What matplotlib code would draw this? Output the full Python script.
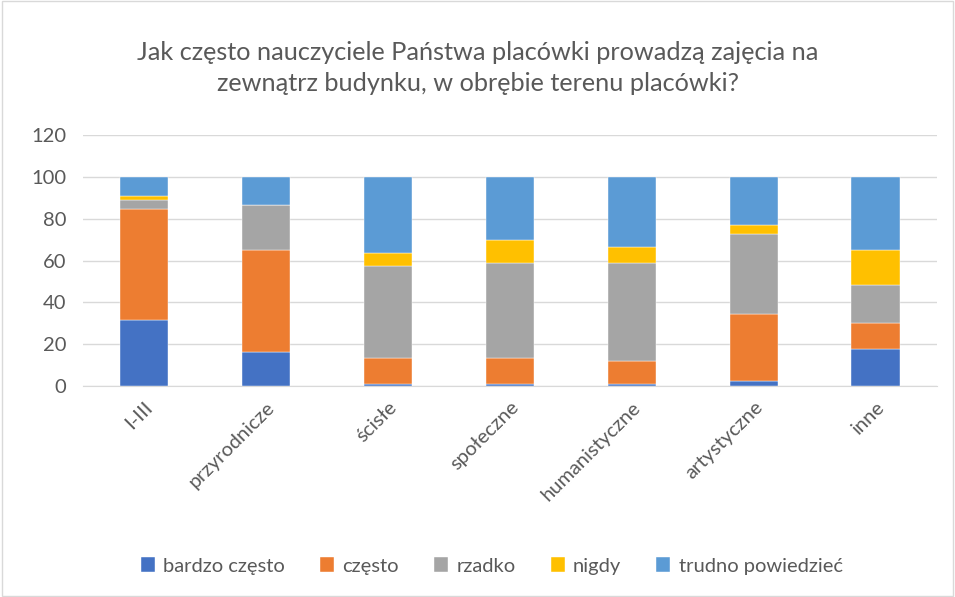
import matplotlib
matplotlib.use('Agg')
import matplotlib.pyplot as plt
import numpy as np

# Data (percent of answers)
CATEGORIES = ['I-III', 'przyrodnicze', 'ścisłe', 'społeczne',
              'humanistyczne', 'artystyczne', 'inne']
BARDZO_CZESTO = [31.5, 16.4, 1.1, 1.1, 1.1, 2.5, 17.8]
CZESTO        = [53.2, 48.6, 12.4, 12.4, 10.7, 32.1, 12.1]
RZADKO        = [4.3, 21.5, 43.8, 45.4, 47.1, 38.0, 18.3]
NIGDY         = [1.8, 0.0, 6.2, 10.7, 7.5, 4.5, 16.8]
TRUDNO        = [9.2, 13.5, 36.5, 30.4, 33.6, 22.9, 35.0]

SERIES = [
    ('bardzo często', BARDZO_CZESTO, '#4472C4'),
    ('często', CZESTO, '#ED7D31'),
    ('rzadko', RZADKO, '#A5A5A5'),
    ('nigdy', NIGDY, '#FFC000'),
    ('trudno powiedzieć', TRUDNO, '#5B9BD5'),
]

TXT = '#595959'
plt.rcParams['font.family'] = ['Lato', 'DejaVu Sans']

fig = plt.figure(figsize=(9.55, 5.97), dpi=100, facecolor='white')
ax = fig.add_axes([0.087, 0.3534, 0.894, 0.4204])

x = np.arange(len(CATEGORIES))
bottom = np.zeros(len(CATEGORIES))
for label, vals, col in SERIES:
    vals = np.array(vals)
    ax.bar(x, vals, bottom=bottom, width=0.4, color=col, label=label,
           edgecolor='white', linewidth=0.3, zorder=3)
    bottom += vals

ax.set_ylim(0, 120)
ax.set_xlim(-0.5, len(CATEGORIES) - 0.5)
ax.set_yticks(range(0, 121, 20))
ax.yaxis.grid(True, color='#D9D9D9', lw=1.0, zorder=0)
for s in ['top', 'right', 'left']:
    ax.spines[s].set_visible(False)
ax.spines['bottom'].set_color('#D9D9D9')
ax.tick_params(axis='both', length=0, labelsize=14.5, colors=TXT)
ax.tick_params(axis='y', pad=12)
ax.set_xticks(x)
ax.set_xticklabels(CATEGORIES, rotation=45, ha='right', rotation_mode='anchor')
ax.tick_params(axis='x', pad=9)

fig.text(0.5, 0.886, 'Jak często nauczyciele Państwa placówki prowadzą zajęcia na\n'
         'zewnątrz budynku, w obrębie terenu placówki?',
         ha='center', va='center', fontsize=18.2, color=TXT, linespacing=1.45)

fig.legend(loc='center', bbox_to_anchor=(0.515, 0.052), ncol=5, frameon=False,
           fontsize=14.5, labelcolor=TXT, handlelength=0.7, handleheight=0.7,
           columnspacing=1.75, handletextpad=0.4)

# light chart border
fig.patches.append(plt.Rectangle((0.002, 0.002), 0.996, 0.996, transform=fig.transFigure,
                                 fill=False, edgecolor='#D9D9D9', lw=1))

fig.savefig('out.png', dpi=100, facecolor='white')
